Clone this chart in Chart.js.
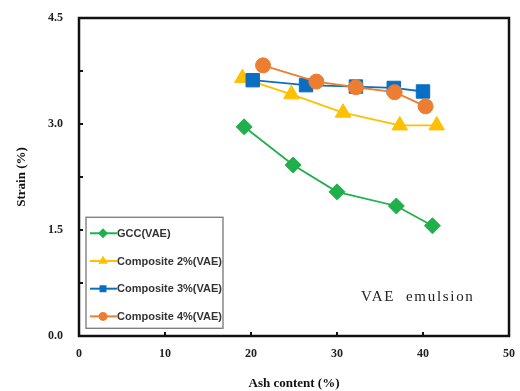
<!DOCTYPE html>
<html><head><meta charset="utf-8">
<script src="https://cdn.jsdelivr.net/npm/chart.js@4/dist/chart.umd.min.js"></script>
<style>html,body{margin:0;padding:0;background:#fff}#wrap{width:520px;height:391px;position:relative}</style>
</head><body><div id="wrap"><canvas id="c"></canvas></div>
<script>
const seriesNames = ["GCC(VAE)", "Composite 2%(VAE)", "Composite 3%(VAE)", "Composite 4%(VAE)"];
const gccAsh = [19.2, 24.9, 30.0, 36.9, 41.1];
const gccStrain = [2.96, 2.42, 2.04, 1.84, 1.56];
const c2Ash = [19.0, 24.7, 30.7, 37.3, 41.6];
const c2Strain = [3.65, 3.42, 3.16, 2.98, 2.98];
const c3Ash = [20.2, 26.4, 32.2, 36.6, 40.0];
const c3Strain = [3.62, 3.55, 3.53, 3.51, 3.46];
const c4Ash = [21.4, 27.6, 32.2, 36.7, 40.3];
const c4Strain = [3.83, 3.60, 3.52, 3.45, 3.25];
const xTickLabels = [0, 10, 20, 30, 40, 50];
const yTickLabels = [0.0, 1.5, 3.0, 4.5];
const noteText = "VAE  emulsion";

const colors = ["#1fb04b", "#ffc000", "#0a6fc2", "#ed7d31"];
const styles = ["rectRot", "triangle", "rect", "circle"];
const radii = [8, 9, 9.5, 7.5];
const xs = [gccAsh, c2Ash, c3Ash, c4Ash];
const ys = [gccStrain, c2Strain, c3Strain, c4Strain];

const datasets = seriesNames.map((n, i) => ({
  label: n,
  data: xs[i].map((x, j) => ({x: x, y: ys[i][j]})),
  showLine: true,
  order: 4 - i,
  borderColor: colors[i],
  backgroundColor: colors[i],
  pointBackgroundColor: colors[i],
  pointBorderColor: colors[i],
  pointStyle: styles[i],
  pointRadius: radii[i],
  borderWidth: 1.8,
  pointBorderWidth: 1,
  tension: 0
}));

const serif = '"Liberation Serif", "DejaVu Serif", serif';

const framePlugin = {
  id: 'frame',
  afterDraw(chart) {
    const ctx = chart.ctx, a = chart.chartArea;
    const xs_ = chart.scales.x, ys_ = chart.scales.y;
    ctx.save();
    ctx.strokeStyle = '#111';
    ctx.lineWidth = 2.5;
    ctx.strokeRect(a.left, a.top, a.right - a.left, a.bottom - a.top);
    ctx.lineWidth = 2;
    for (let v = 10; v < 50; v += 10) {
      const px = xs_.getPixelForValue(v);
      ctx.beginPath(); ctx.moveTo(px, a.bottom); ctx.lineTo(px, a.bottom - 4); ctx.stroke();
    }
    for (let v = 0.75; v < 4.5; v += 0.75) {
      const py = ys_.getPixelForValue(v);
      ctx.beginPath(); ctx.moveTo(a.left, py); ctx.lineTo(a.left + 4, py); ctx.stroke();
    }
    // note text
    ctx.fillStyle = '#222';
    ctx.font = '15px ' + serif;
    ctx.textAlign = 'left';
    ctx.textBaseline = 'middle';
    const nx = xs_.getPixelForValue(32.8);
    const nw = ctx.measureText(noteText).width;
    const target = xs_.getPixelForValue(45.8) - nx;
    const spacing = Math.max(0, (target - nw) / (noteText.length - 1));
    ctx.letterSpacing = spacing.toFixed(2) + 'px';
    ctx.fillText(noteText, nx, ys_.getPixelForValue(0.55));
    ctx.letterSpacing = '0px';
    // legend box
    const lx = a.left + 7, ly = ys_.getPixelForValue(1.68), lw = 137, lh = 111;
    ctx.fillStyle = '#fff';
    ctx.fillRect(lx, ly, lw, lh);
    ctx.strokeStyle = '#777';
    ctx.lineWidth = 1.3;
    ctx.strokeRect(lx, ly, lw, lh);
    chart.data.datasets.forEach((ds, i) => {
      const yy = ly + 16 + i * 27.7;
      ctx.strokeStyle = ds.borderColor;
      ctx.lineWidth = 2;
      ctx.beginPath(); ctx.moveTo(lx + 4, yy); ctx.lineTo(lx + 31, yy); ctx.stroke();
      ctx.fillStyle = ds.borderColor;
      Chart.helpers.drawPoint(ctx, {pointStyle: ds.pointStyle, radius: 3.5, borderWidth: 1}, lx + 17, yy);
      ctx.fillStyle = '#333';
      ctx.font = 'bold 11px "Liberation Sans", Arial, sans-serif';
      ctx.textAlign = 'left';
      ctx.fillText(ds.label, lx + 31, yy + 0.5);
    });
    ctx.restore();
  }
};

new Chart(document.getElementById('c'), {
  type: 'scatter',
  data: { datasets: datasets },
  plugins: [framePlugin],
  options: {
    responsive: true,
    maintainAspectRatio: false,
    animation: false,
    layout: { padding: { top: 18, right: 11, left: 0, bottom: 0 } },
    plugins: { legend: { display: false }, tooltip: { enabled: false } },
    scales: {
      x: {
        type: 'linear', min: 0, max: 50,
        afterFit(s) { s.height = 55; s.paddingLeft = 0; s.paddingRight = 0; },
        afterBuildTicks(s) { s.ticks = xTickLabels.map(v => ({value: v})); },
        grid: { display: false, drawTicks: false },
        border: { display: false },
        ticks: { padding: 11, color: '#222', font: { family: serif, weight: 'bold', size: 12 }, callback: v => String(v) },
        title: { display: true, text: 'Ash content (%)', color: '#111', font: { family: serif, weight: 'bold', size: 13 }, padding: { top: 5, bottom: 0 } }
      },
      y: {
        type: 'linear', min: 0, max: 4.5,
        afterFit(s) { s.width = 79; s.paddingTop = 0; s.paddingBottom = 0; },
        afterBuildTicks(s) { s.ticks = yTickLabels.map(v => ({value: v})); },
        grid: { display: false, drawTicks: false },
        border: { display: false },
        ticks: { padding: 16, color: '#222', font: { family: serif, weight: 'bold', size: 12 }, callback: v => Number(v).toFixed(1) },
        title: { display: true, text: 'Strain (%)', color: '#111', font: { family: serif, weight: 'bold', size: 13 }, padding: { top: 14, bottom: 0 } }
      }
    }
  }
});
</script></body></html>
